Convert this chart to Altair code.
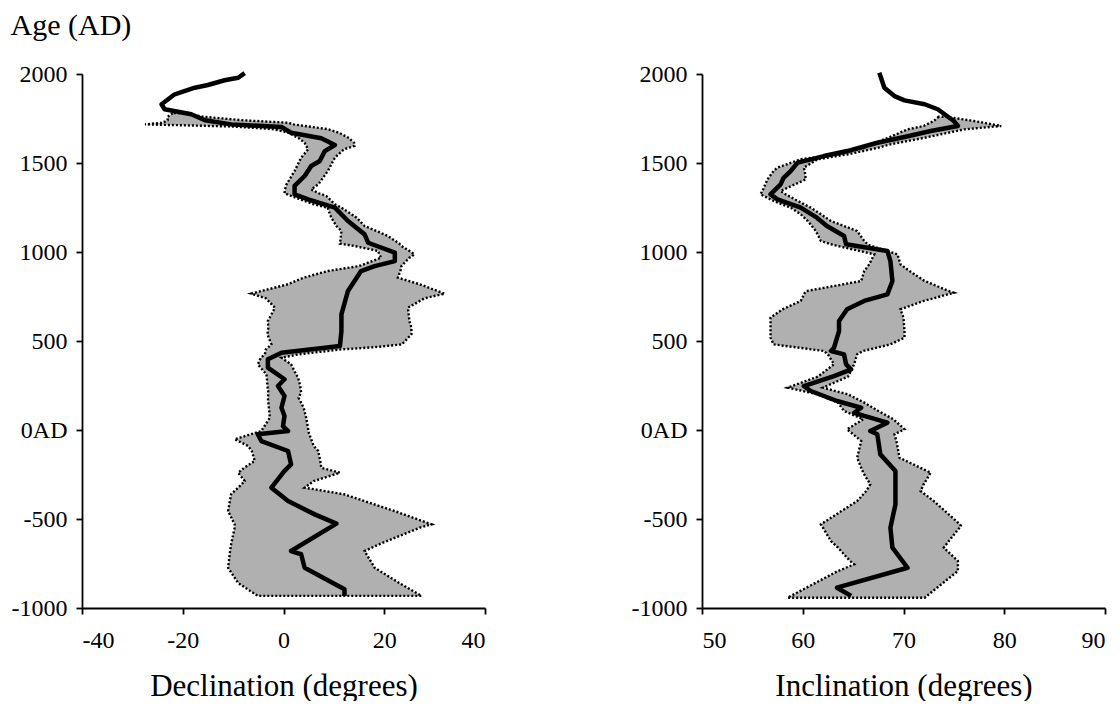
import altair as alt
import pandas as pd

# ---------------- Declination (left panel) ----------------
dec_age = [2005, 1979, 1965, 1938, 1923, 1886, 1830, 1802, 1774, 1740,
           1717, 1702, 1670, 1639, 1601, 1567, 1511, 1483, 1427, 1371,
           1324, 1296, 1249, 1174, 1099, 1052, 996, 949, 921, 893,
           781, 650, 556, 472, 434, 397, 350, 285, 247, 191,
           125, 79, 22, -6, -24, -62, -118, -193, -230, -324,
           -399, -474, -526, -680, -698, -774, -895, -932]
dec_val = [-7.7, -9.0, -11.7, -15.0, -17.6, -21.6, -24.2, -23.6, -18.3, -15.6,
           -10.4, -0.4, 1.5, 7.5, 10.2, 8.2, 7.2, 5.5, 4.2, 2.2,
           2.2, 4.9, 10.2, 12.8, 16.1, 16.8, 22.1, 22.1, 18.1, 15.4,
           12.8, 11.5, 11.5, 11.2, -0.4, -3.1, -3.1, 0.2, -1.1, 0.2,
           -0.4, 0.2, -0.1, 0.9, -5.1, -4.4, 0.9, 1.5, 0.2, -2.4,
           0.9, 6.2, 10.5, 1.5, 3.5, 4.2, 12.1, 12.1]

dec_band_age = [1780, 1760, 1740, 1726, 1717, 1705, 1690, 1670, 1640, 1614,
                1596, 1577, 1530, 1455, 1380, 1352, 1330, 1315, 1268, 1249,
                1212, 1193, 1146, 1118, 1090, 1047, 1034, 1006, 987, 968,
                921, 893, 856, 819, 766, 740, 687, 612, 575, 538,
                481, 465, 453, 425, 406, 369, 313, 294, 250, 210,
                181, 125, 69, 4, -6, -52, -90, -118, -174, -212,
                -240, -287, -324, -361, -455, -530, -549, -642, -680, -774,
                -860, -932]
dec_lo = [-22, -23, -23, -24, -27.5, -10, -2, 1, 3, 4.2,
          4.5, 4.9, 3.5, 2.2, 0.6, 0.3, 0.2, 1.5, 6, 8.8,
          9.2, 9.5, 10.5, 11.5, 11.4, 11.2, 14, 18.8, 19, 19.4,
          15, 8.8, 4, 0.9, -6.4, -3.5, -1.7, -3.1, -3, -3.2,
          -2.4, -3, -3.5, -3.7, -4.5, -5.1, -3.4, -3.3, -3.2, -3,
          -3.1, -2.9, -2.7, -4.2, -4.4, -9.7, -7.0, -6.3, -5.7, -7.8,
          -9, -7.7, -9, -10.4, -11, -9.7, -9.7, -10.4, -10.6, -11,
          -9, -5.1]
dec_hi = [-20, -16, -8, 1, 2, 5, 8.8, 11, 13, 14,
          14.1, 12, 10.2, 8.8, 6.9, 5.5, 7, 8.5, 10.2, 11.5,
          13.5, 14.5, 16.1, 18.5, 20.7, 23, 23.4, 25, 26.0, 25,
          23.4, 23.2, 22.7, 27, 32, 28, 24.7, 25, 25.4, 25.4,
          23.5, 18, 11.5, 3, -0.4, 1.5, 2.5, 2.9, 3.3, 3.5,
          3, 4, 4.5, 4.9, 4.9, 5.5, 6, 6.9, 7.3, 7.5,
          11.2, 6, 4.2, 12, 22, 29.4, 27, 19, 16.1, 18.1,
          23, 27.4]

# ---------------- Inclination (right panel) ----------------
inc_age = [2007, 1923, 1876, 1852, 1830, 1802, 1736, 1708, 1680, 1646,
           1614, 1567, 1539, 1502, 1455, 1417, 1380, 1324, 1296, 1249,
           1193, 1146, 1090, 1043, 1006, 949, 837, 762, 725, 678,
           612, 556, 462, 444, 425, 369, 341, 303, 247, 219,
           163, 125, 97, 79, 41, -6, -24, -137, -230, -418,
           -549, -661, -774, -886, -932]
inc_val = [67.6, 68.1, 69.1, 70.1, 72.1, 73.4, 75.0, 75.4, 72.7, 70.1,
           67.4, 64.4, 62.1, 59.5, 58.8, 58.1, 57.8, 56.8, 57.5, 59.8,
           61.4, 62.4, 64.1, 64.3, 68.4, 68.7, 68.9, 68.4, 66.1, 64.4,
           63.6, 63.6, 63.1, 62.8, 64.1, 64.3, 64.8, 63.1, 60.1, 60.8,
           63.4, 65.8, 65.1, 66.1, 68.4, 66.7, 67.4, 67.7, 69.2, 69.2,
           68.7, 68.9, 70.4, 63.4, 64.8]

inc_band_age = [1760, 1736, 1708, 1689, 1642, 1605, 1586, 1549, 1521, 1474,
                1455, 1408, 1343, 1324, 1287, 1249, 1212, 1174, 1118, 1062,
                1040, 987, 931, 893, 837, 781, 771, 725, 678, 631,
                556, 519, 481, 444, 425, 369, 300, 238, 200, 154,
                107, 60, 4, -24, -62, -156, -240, -305, -343, -399,
                -530, -539, -624, -661, -736, -755, -792, -942]
inc_lo = [73.5, 73, 72, 70.4, 68.5, 66.8, 66.1, 63.4, 59.8, 57.5,
          57.1, 56.5, 56, 55.8, 57.1, 58.8, 59.8, 60.5, 61.3, 61.8,
          63, 67.1, 66.6, 66.1, 65.8, 60.4, 60.2, 59.8, 58, 56.8,
          56.8, 56.8, 57.1, 62.1, 62.5, 63.1, 61.5, 58.5, 61.5, 63.5,
          64.1, 66, 64.4, 65, 65.8, 65.4, 66, 66.7, 66.3, 65.4,
          61.8, 61.9, 62.8, 63.5, 64.7, 65.1, 63.5, 58.5]
inc_hi = [74.2, 77, 79.7, 76, 72.1, 68.7, 67.5, 64.5, 61.5, 60.1,
          60.2, 60.3, 57.8, 58.3, 59.5, 60.8, 61.8, 62.8, 65.4, 66.1,
          66.5, 69.4, 69.7, 70.6, 72.1, 74.5, 75.0, 72, 69.7, 70,
          70.1, 70.1, 68.7, 66, 65.4, 65.1, 64.5, 62, 64.5, 66.1,
          67.5, 69, 70.1, 69.1, 69.3, 69.6, 72.7, 72, 71.7, 73,
          75.6, 75.7, 74.5, 74, 75.4, 75.4, 75.4, 72.1]

age_ticks = [-1000, -500, 0, 500, 1000, 1500, 2000]
dec_ticks = [-40, -20, 0, 20, 40]
inc_ticks = [50, 60, 70, 80, 90]

FONT = "Liberation Serif"
W, H = 403, 534


def panel(line_age, line_val, b_age, b_lo, b_hi, xdom, xticks, xtitle, ytitle):
    line_df = pd.DataFrame({"age": line_age, "val": line_val, "i": range(len(line_age))})
    band_df = pd.DataFrame({"age": b_age, "lo": b_lo, "hi": b_hi})
    yscale = alt.Scale(domain=[-1000, 2000], nice=False, zero=False)
    xscale = alt.Scale(domain=xdom, nice=False, zero=False)
    yaxis_kw = dict(values=age_ticks, grid=False, domainColor="black", domainWidth=1.8,
                    tickColor="black", tickWidth=1.8, tickSize=6,
                    labelFont=FONT, labelFontSize=24, labelColor="black", labelPadding=9,
                    labelExpr="datum.value == 0 ? '0AD' : '' + datum.value")
    if ytitle:
        yaxis = alt.Axis(title=ytitle, titleAngle=0, titleAlign="left", titleBaseline="alphabetic",
                         titleX=-72, titleY=-40, titleFont=FONT, titleFontSize=30,
                         titleFontWeight="normal", titleColor="black", **yaxis_kw)
    else:
        yaxis = alt.Axis(title=None, **yaxis_kw)
    xaxis = alt.Axis(values=xticks, grid=False, title=xtitle, domainColor="black", domainWidth=1.8,
                     tickColor="black", tickWidth=1.8, tickSize=6,
                     labelFont=FONT, labelFontSize=24, labelColor="black", labelPadding=14,
                     labelExpr="'' + datum.value",
                     titleFont=FONT, titleFontSize=31, titleFontWeight="normal",
                     titleColor="black", titlePadding=19)
    band = alt.Chart(band_df).mark_area(
        orient="horizontal", fill="#b0b0b0", fillOpacity=1, stroke="black",
        strokeWidth=2.4, strokeDash=[2, 2]
    ).encode(
        y=alt.Y("age:Q", scale=yscale, axis=yaxis),
        x=alt.X("lo:Q", scale=xscale, axis=xaxis),
        x2="hi:Q",
    )
    line = alt.Chart(line_df).mark_line(color="black", strokeWidth=4.5, strokeJoin="round").encode(
        y=alt.Y("age:Q", scale=yscale),
        x=alt.X("val:Q", scale=xscale),
        order="i:Q",
    )
    return alt.layer(band, line).properties(width=W, height=H)


left = panel(dec_age, dec_val, dec_band_age, dec_lo, dec_hi, [-40, 40], dec_ticks,
             "Declination (degrees)", "Age (AD)")
right = panel(inc_age, inc_val, inc_band_age, inc_lo, inc_hi, [50, 90], inc_ticks,
              "Inclination (degrees)", None)

chart = alt.hconcat(left, right, spacing=217, bounds="flush").properties(
    padding={"left": 2, "top": 2, "right": 5, "bottom": 0},
    background="white",
).configure_view(strokeWidth=0, stroke="white")

chart.save("out.html", embed_options={"renderer": "svg", "actions": False})
